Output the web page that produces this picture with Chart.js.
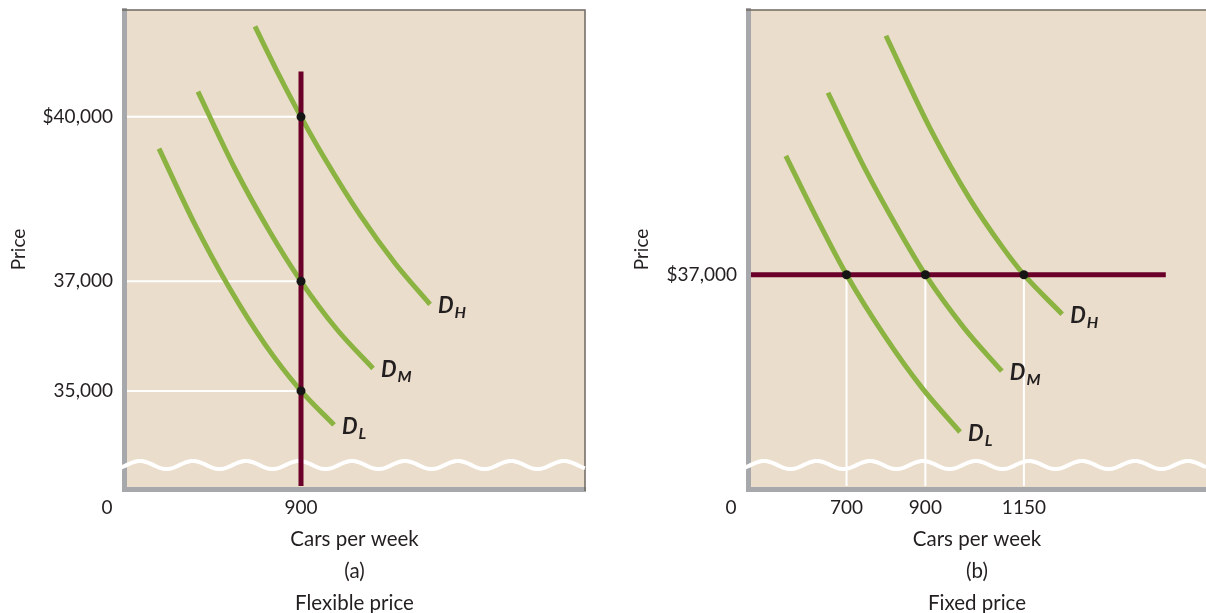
<!DOCTYPE html>
<html>
<head>
<meta charset="utf-8">
<script src="https://cdn.jsdelivr.net/npm/chart.js@4.4.0/dist/chart.umd.min.js"></script>
<style>
    html, body { margin: 0; padding: 0; background: #fff; overflow: hidden; }
    canvas { position: absolute; top: 0; }
    #graficaA { left: 0; }
    #graficaB { left: 620px; }
</style>
</head>
<body>
<canvas id="graficaA" width="603" height="619"></canvas>
<canvas id="graficaB" width="586" height="619"></canvas>
<script>
// (a) precio flexible
const ticksPrecioA = [35000, 37000, 40000];
const etiquetasPrecioA = ['35,000', '37,000', '$40,000'];
const ticksAutosA = [900];
const etiquetasAutosA = ['900'];
const demandaAltaA = [{x:666,y:41650},{x:783,y:40800},{x:900,y:40000},{x:1022,y:39230},{x:1200,y:38210},{x:1378,y:37330},{x:1556,y:36580}];
const demandaMediaA = [{x:376,y:40460},{x:559,y:39090},{x:742,y:37900},{x:900,y:37000},{x:1083,y:36120},{x:1266,y:35410}];
const demandaBajaA = [{x:178,y:39420},{x:356,y:38070},{x:534,y:36890},{x:717,y:35850},{x:900,y:35000},{x:1068,y:34380}];
const cantidadFijaA = 900;
const topeCantidadA = 40830;
const rangoXA = [0, 2344];
const rangoYA = [33210, 41950];

// (b) precio fijo
const ticksPrecioB = [37000];
const etiquetasPrecioB = ['$37,000'];
const ticksAutosB = [700, 900, 1150];
const etiquetasAutosB = ['700', '900', '1150'];
const demandaAltaB = [{x:800,y:41360},{x:912,y:39670},{x:1013,y:38380},{x:1097,y:37490},{x:1150,y:37000},{x:1247,y:36280}];
const demandaMediaB = [{x:653,y:40320},{x:747,y:38930},{x:831,y:37830},{x:900,y:37000},{x:998,y:36030},{x:1094,y:35240}];
const demandaBajaB = [{x:546,y:39170},{x:623,y:38050},{x:700,y:37000},{x:798,y:35870},{x:892,y:34930},{x:988,y:34130}];
const precioFijoB = 37000;
const tramoPrecioB = [455, 1510];
const rangoXB = [450, 1612];
const rangoYB = [33090, 41830];

const fuente = 'Lato, "Open Sans", sans-serif';
const colorTexto = '#231F20';
const verde = '#8AB341';
const guinda = '#6A0029';
const grisEje = '#A6A8AB';
const beige = '#EBDDCB';

function curva(datos, sub) {
    return {
        data: datos,
        showLine: true,
        borderColor: verde,
        borderWidth: 5,
        pointRadius: 0,
        cubicInterpolationMode: 'monotone',
        subindice: sub,
        clip: {left: -3, top: 0, right: 0, bottom: -3}
    };
}

function recta(datos, color, ancho) {
    return {
        data: datos,
        showLine: true,
        borderColor: color,
        borderWidth: ancho,
        pointRadius: 0,
        tension: 0,
        clip: {left: -3, top: 0, right: 0, bottom: -3}
    };
}

function puntos(datos) {
    return {
        data: datos,
        showLine: false,
        pointRadius: 4.5,
        pointBackgroundColor: '#151515',
        pointBorderWidth: 0
    };
}

// sin relleno extra por las etiquetas, el area la fija el layout
function sinRelleno(eje) {
    eje.paddingTop = 0;
    eje.paddingBottom = 0;
    eje.paddingLeft = 0;
    eje.paddingRight = 0;
}

function ejeX(rango, ticks, etiquetas, alto, titulo) {
    return {
        type: 'linear',
        min: rango[0],
        max: rango[1],
        afterBuildTicks: eje => { eje.ticks = ticks.map(v => ({value: v})); },
        afterFit: eje => { eje.height = alto; sinRelleno(eje); },
        grid: { display: false, drawTicks: false },
        border: { display: true, color: grisEje, width: 5 },
        ticks: {
            autoSkip: false,
            maxRotation: 0,
            padding: 7,
            color: colorTexto,
            font: { family: fuente, size: 19 },
            callback: v => etiquetas[ticks.indexOf(v)]
        },
        title: {
            display: true,
            text: titulo,
            color: colorTexto,
            font: { family: fuente, size: 20.5, lineHeight: 32 / 20.5 },
            padding: { top: 0, bottom: 0 }
        }
    };
}

function ejeY(rango, ticks, etiquetas, ancho, padTitulo) {
    return {
        type: 'linear',
        min: rango[0],
        max: rango[1],
        afterBuildTicks: eje => { eje.ticks = ticks.map(v => ({value: v})); },
        afterFit: eje => { eje.width = ancho; sinRelleno(eje); },
        grid: { display: false, drawTicks: false },
        border: { display: true, color: grisEje, width: 5 },
        ticks: {
            autoSkip: false,
            padding: 11,
            color: colorTexto,
            font: { family: fuente, size: 19 },
            callback: v => etiquetas[ticks.indexOf(v)]
        },
        title: {
            display: true,
            text: 'Price',
            color: colorTexto,
            font: { family: fuente, size: 19 },
            padding: { top: padTitulo, bottom: 0 }
        }
    };
}

// fondo, marco, onda de corte del eje y el "0" del origen
const decorado = {
    id: 'decorado',
    beforeDraw(chart) {
        const {ctx, chartArea: a} = chart;
        ctx.save();
        ctx.fillStyle = beige;
        ctx.fillRect(a.left, a.top, a.right - a.left, a.bottom - a.top);
        ctx.restore();
    },
    beforeDatasetsDraw(chart) {
        const {ctx, chartArea: a} = chart;
        ctx.save();
        ctx.strokeStyle = '#6F6861';
        ctx.lineWidth = 1.5;
        ctx.beginPath();
        ctx.moveTo(a.left - 2, a.top);
        ctx.lineTo(a.right, a.top);
        if (chart.options.marcoDerecho) ctx.lineTo(a.right, a.bottom + 2);
        ctx.stroke();

        // onda blanca
        const yOnda = a.bottom - 24;
        ctx.strokeStyle = '#FFFFFF';
        ctx.lineWidth = 4;
        ctx.beginPath();
        for (let x = a.left - 4; x <= a.right; x++) {
            const y = yOnda - 4 * Math.cos(2 * Math.PI * (x - a.left - 16) / 53);
            if (x === a.left - 4) ctx.moveTo(x, y); else ctx.lineTo(x, y);
        }
        ctx.stroke();

        ctx.fillStyle = colorTexto;
        ctx.font = '19px ' + fuente;
        ctx.textAlign = 'center';
        ctx.textBaseline = 'middle';
        ctx.fillText('0', a.left - 17, a.bottom + 18.5);
        ctx.restore();
    },
    afterDatasetsDraw(chart) {
        const ctx = chart.ctx;
        ctx.save();
        ctx.fillStyle = colorTexto;
        ctx.textAlign = 'left';
        ctx.textBaseline = 'alphabetic';
        chart.data.datasets.forEach((ds, i) => {
            if (!ds.subindice) return;
            const meta = chart.getDatasetMeta(i);
            const ultimo = meta.data[meta.data.length - 1];
            const x = ultimo.x + 8;
            const y = ultimo.y + 9;
            ctx.font = 'italic bold 22px ' + fuente;
            ctx.fillText('D', x, y);
            const w = ctx.measureText('D').width;
            ctx.font = 'italic bold 16px ' + fuente;
            ctx.fillText(ds.subindice, x + w + 1, y + 5);
        });
        ctx.restore();
    }
};

function opcionesBase(escalas, padDerecho, marco) {
    return {
        responsive: false,
        animation: false,
        events: [],
        marcoDerecho: marco,
        layout: { autoPadding: false, padding: { top: 10, right: padDerecho, left: 0, bottom: 0 } },
        plugins: { legend: { display: false }, tooltip: { enabled: false } },
        scales: escalas
    };
}

function dibujarFlexible() {
    const ctx = document.getElementById('graficaA').getContext('2d');
    const lineasGuia = ticksPrecioA.map(p => recta([{x: rangoXA[0], y: p}, {x: cantidadFijaA, y: p}], '#FFFFFF', 2));
    new Chart(ctx, {
        type: 'scatter',
        data: {
            datasets: [
                puntos(ticksPrecioA.map(p => ({x: cantidadFijaA, y: p}))),
                recta([{x: cantidadFijaA, y: rangoYA[0]}, {x: cantidadFijaA, y: topeCantidadA}], guinda, 5),
                curva(demandaAltaA, 'H'),
                curva(demandaMediaA, 'M'),
                curva(demandaBajaA, 'L'),
                ...lineasGuia
            ]
        },
        options: opcionesBase({
            x: ejeX(rangoXA, ticksAutosA, etiquetasAutosA, 130, ['Cars per week', '(a)', 'Flexible price']),
            y: ejeY(rangoYA, ticksPrecioA, etiquetasPrecioA, 124, 7)
        }, 18, true),
        plugins: [decorado]
    });
}

function dibujarFijo() {
    const ctx = document.getElementById('graficaB').getContext('2d');
    const lineasGuia = ticksAutosB.map(q => recta([{x: q, y: rangoYB[0]}, {x: q, y: precioFijoB}], '#FFFFFF', 2));
    new Chart(ctx, {
        type: 'scatter',
        data: {
            datasets: [
                puntos(ticksAutosB.map(q => ({x: q, y: precioFijoB}))),
                recta([{x: tramoPrecioB[0], y: precioFijoB}, {x: tramoPrecioB[1], y: precioFijoB}], guinda, 5),
                curva(demandaAltaB, 'H'),
                curva(demandaMediaB, 'M'),
                curva(demandaBajaB, 'L'),
                ...lineasGuia
            ]
        },
        options: opcionesBase({
            x: ejeX(rangoXB, ticksAutosB, etiquetasAutosB, 130, ['Cars per week', '(b)', 'Fixed price']),
            y: ejeY(rangoYB, ticksPrecioB, etiquetasPrecioB, 128, 10)
        }, 0, false),
        plugins: [decorado]
    });
}

dibujarFlexible();
dibujarFijo();
</script>
</body>
</html>
